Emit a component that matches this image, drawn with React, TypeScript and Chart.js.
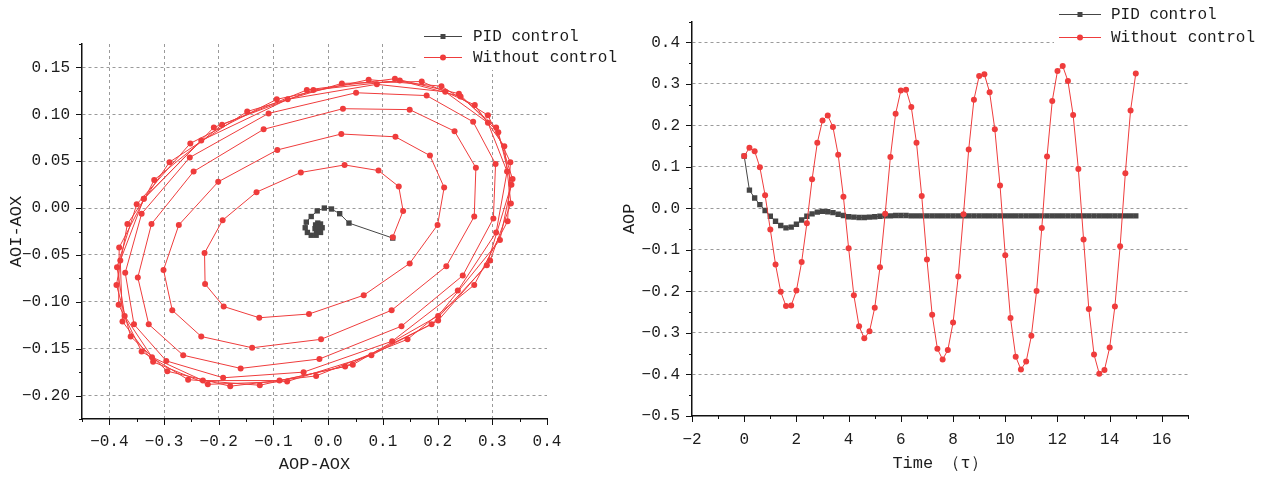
import React, { useEffect, useRef } from 'react';
import { Chart, registerables } from 'chart.js';

Chart.register(...registerables);

const FONT = "'Liberation Mono', 'DejaVu Sans Mono', monospace";
const RED = 'rgb(239,60,60)';
const GREY = '#454545';
const GRID = '#9a9a9a';
const AXIS = '#111111';
const TEXT = '#1c1c1c';

const seriesNames = ['PID control', 'Without control'];

// ---------- Left chart: phase portrait ----------
const phaseX = [
  0.118, 0.137, 0.129, 0.092, 0.030, -0.050, -0.131, -0.193, -0.226, -0.225,
  -0.191, -0.126, -0.035, 0.065, 0.149, 0.200, 0.212, 0.186, 0.123, 0.024,
  -0.093, -0.201, -0.273, -0.301, -0.285, -0.232, -0.139, -0.013, 0.116, 0.216,
  0.267, 0.270, 0.231, 0.149, 0.027, -0.118, -0.246, -0.323, -0.348, -0.328,
  -0.265, -0.160, -0.016, 0.134, 0.246, 0.302, 0.306, 0.265, 0.180, 0.051,
  -0.109, -0.253, -0.341, -0.371, -0.355, -0.296, -0.192, -0.045, 0.117, 0.237,
  0.307, 0.327, 0.292, 0.214, 0.089, -0.074, -0.232, -0.337, -0.380, -0.376,
  -0.320, -0.220, -0.075, 0.079, 0.201, 0.296, 0.334, 0.322, 0.268, 0.171,
  0.025, -0.148, -0.290, -0.367, -0.387, -0.361, -0.294, -0.179, -0.022, 0.145,
  0.267, 0.328, 0.333, 0.292, 0.207, 0.074, -0.094, -0.252, -0.350, -0.386,
  -0.372, -0.322, -0.229, -0.089, 0.031, 0.189, 0.290, 0.335, 0.311, 0.239,
  0.122, -0.039, -0.194, -0.318, -0.382, -0.383, -0.341, -0.256, -0.125, 0.045,
  0.201, 0.314, 0.337, 0.307, 0.242, 0.131, -0.027, -0.209, -0.337,
];
const phaseY = [
  -0.031, -0.003, 0.023, 0.040, 0.046, 0.038, 0.017, -0.013, -0.048, -0.081,
  -0.105, -0.117, -0.113, -0.093, -0.059, -0.018, 0.022, 0.056, 0.076, 0.079,
  0.062, 0.028, -0.018, -0.066, -0.109, -0.137, -0.149, -0.140, -0.109, -0.062,
  -0.009, 0.043, 0.082, 0.105, 0.106, 0.084, 0.039, -0.017, -0.074, -0.124,
  -0.157, -0.171, -0.161, -0.126, -0.072, -0.011, 0.047, 0.092, 0.120, 0.123,
  0.101, 0.054, -0.006, -0.069, -0.124, -0.163, -0.181, -0.175, -0.142, -0.088,
  -0.026, 0.039, 0.091, 0.124, 0.132, 0.116, 0.072, 0.010, -0.056, -0.121,
  -0.164, -0.188, -0.185, -0.157, -0.120, -0.056, 0.005, 0.066, 0.110, 0.135,
  0.133, 0.103, 0.049, -0.017, -0.082, -0.137, -0.174, -0.190, -0.179, -0.140,
  -0.082, -0.014, 0.049, 0.099, 0.130, 0.137, 0.116, 0.069, 0.004, -0.063,
  -0.115, -0.159, -0.184, -0.184, -0.169, -0.124, -0.061, 0.025, 0.081, 0.122,
  0.138, 0.126, 0.089, 0.030, -0.042, -0.103, -0.153, -0.183, -0.189, -0.167,
  -0.115, -0.034, 0.031, 0.086, 0.119, 0.136, 0.126, 0.086, 0.010,
];
const pidPhaseX = [
  0.118, 0.038, 0.021, 0.006, -0.007, -0.020, -0.031, -0.040, -0.042, -0.038,
  -0.031, -0.022, -0.014, -0.011, -0.014, -0.019, -0.023, -0.024, -0.021, -0.017,
  -0.016, -0.018, -0.020, -0.020, -0.019, -0.018, -0.018, -0.019, -0.019, -0.018,
  -0.018, -0.018, -0.019, -0.019, -0.018, -0.018,
];
const pidPhaseY = [
  -0.032, -0.016, -0.006, -0.001, 0.000, -0.003, -0.009, -0.015, -0.021, -0.026,
  -0.029, -0.029, -0.026, -0.021, -0.017, -0.016, -0.018, -0.022, -0.024, -0.023,
  -0.020, -0.019, -0.020, -0.021, -0.021, -0.020, -0.020, -0.020, -0.021, -0.020,
  -0.020, -0.020, -0.020, -0.021, -0.020, -0.020,
];

const leftXTicks = [-0.4, -0.3, -0.2, -0.1, 0.0, 0.1, 0.2, 0.3, 0.4];
const leftXLabels = ['−0.4', '−0.3', '−0.2', '−0.1', '0.0', '0.1', '0.2', '0.3', '0.4'];
const leftXMinor = [-0.45, -0.35, -0.25, -0.15, -0.05, 0.05, 0.15, 0.25, 0.35];
const leftYTicks = [-0.2, -0.15, -0.1, -0.05, 0.0, 0.05, 0.1, 0.15];
const leftYLabels = ['−0.20', '−0.15', '−0.10', '−0.05', '0.00', '0.05', '0.10', '0.15'];
const leftYMinor = [-0.225, -0.175, -0.125, -0.075, -0.025, 0.025, 0.075, 0.125, 0.175];

// ---------- Right chart: time series ----------
const timeValues = [
  0, 0.2, 0.4, 0.6, 0.8, 1.0, 1.2, 1.4, 1.6, 1.8,
  2.0, 2.2, 2.4, 2.6, 2.8, 3.0, 3.2, 3.4, 3.6, 3.8,
  4.0, 4.2, 4.4, 4.6, 4.8, 5.0, 5.2, 5.4, 5.6, 5.8,
  6.0, 6.2, 6.4, 6.6, 6.8, 7.0, 7.2, 7.4, 7.6, 7.8,
  8.0, 8.2, 8.4, 8.6, 8.8, 9.0, 9.2, 9.4, 9.6, 9.8,
  10.0, 10.2, 10.4, 10.6, 10.8, 11.0, 11.2, 11.4, 11.6, 11.8,
  12.0, 12.2, 12.4, 12.6, 12.8, 13.0, 13.2, 13.4, 13.6, 13.8,
  14.0, 14.2, 14.4, 14.6, 14.8, 15.0,
];
const aopWithout = [
  0.126, 0.146, 0.138, 0.099, 0.032, -0.051, -0.135, -0.201, -0.235, -0.234,
  -0.198, -0.129, -0.036, 0.070, 0.158, 0.212, 0.224, 0.196, 0.129, 0.028,
  -0.096, -0.209, -0.284, -0.313, -0.296, -0.239, -0.142, -0.013, 0.124, 0.228,
  0.284, 0.286, 0.244, 0.158, 0.030, -0.123, -0.256, -0.338, -0.364, -0.341,
  -0.275, -0.164, -0.014, 0.142, 0.262, 0.319, 0.323, 0.280, 0.191, 0.055,
  -0.113, -0.264, -0.357, -0.388, -0.369, -0.307, -0.199, -0.047, 0.125, 0.259,
  0.331, 0.343, 0.307, 0.225, 0.095, -0.075, -0.242, -0.352, -0.398, -0.389,
  -0.335, -0.236, -0.091, 0.085, 0.236, 0.325,
];
const aopPid = [
  0.126, 0.044, 0.025, 0.009, -0.005, -0.019, -0.031, -0.041, -0.047, -0.045,
  -0.038, -0.028, -0.019, -0.013, -0.009, -0.007, -0.008, -0.010, -0.014, -0.017,
  -0.020, -0.021, -0.022, -0.022, -0.021, -0.020, -0.019, -0.018, -0.018, -0.017,
  -0.017, -0.017, -0.018, -0.018, -0.018, -0.018, -0.018, -0.018, -0.018, -0.018,
  -0.018, -0.018, -0.018, -0.018, -0.018, -0.018, -0.018, -0.018, -0.018, -0.018,
  -0.018, -0.018, -0.018, -0.018, -0.018, -0.018, -0.018, -0.018, -0.018, -0.018,
  -0.018, -0.018, -0.018, -0.018, -0.018, -0.018, -0.018, -0.018, -0.018, -0.018,
  -0.018, -0.018, -0.018, -0.018, -0.018, -0.018,
];

const rightXTicks = [-2, 0, 2, 4, 6, 8, 10, 12, 14, 16];
const rightXLabels = ['−2', '0', '2', '4', '6', '8', '10', '12', '14', '16'];
const rightXMinor = [-1, 1, 3, 5, 7, 9, 11, 13, 15, 17];
const rightYTicks = [-0.5, -0.4, -0.3, -0.2, -0.1, 0.0, 0.1, 0.2, 0.3, 0.4];
const rightYLabels = ['−0.5', '−0.4', '−0.3', '−0.2', '−0.1', '0.0', '0.1', '0.2', '0.3', '0.4'];
const rightYMinor = [-0.45, -0.35, -0.25, -0.15, -0.05, 0.05, 0.15, 0.25, 0.35, 0.45];

// ---------- plugins ----------
const axisTicksPlugin = {
  id: 'axisTicks',
  afterDraw(chart: any, _args: any, opts: any) {
    const { ctx, chartArea: a, scales } = chart;
    const xs = scales.x;
    const ys = scales.y;
    ctx.save();
    ctx.strokeStyle = AXIS;
    ctx.lineWidth = 1;
    ctx.beginPath();
    const tx = (vals: number[], len: number) =>
      vals.forEach((v) => {
        const p = Math.round(xs.getPixelForValue(v)) + 0.5;
        ctx.moveTo(p, a.bottom);
        ctx.lineTo(p, a.bottom + len);
      });
    const ty = (vals: number[], len: number) =>
      vals.forEach((v) => {
        const p = Math.round(ys.getPixelForValue(v)) + 0.5;
        ctx.moveTo(a.left, p);
        ctx.lineTo(a.left - len, p);
      });
    tx(opts.xMajor, 6);
    tx(opts.xMinor, 3);
    ty(opts.yMajor, 6);
    ty(opts.yMinor, 3);
    ctx.stroke();
    ctx.restore();
  },
};

const boxLegendPlugin = {
  id: 'boxLegend',
  afterDraw(chart: any, _args: any, opts: any) {
    const { ctx } = chart;
    ctx.save();
    ctx.fillStyle = '#ffffff';
    ctx.fillRect(opts.box[0], opts.box[1], opts.box[2], opts.box[3]);
    const ds = chart.data.datasets;
    opts.order.forEach((label: string, i: number) => {
      const d = ds.find((q: any) => q.label === label);
      const yy = opts.y0 + i * opts.dy;
      ctx.strokeStyle = d.borderColor;
      ctx.lineWidth = 1;
      ctx.beginPath();
      ctx.moveTo(opts.x0, Math.round(yy) + 0.5);
      ctx.lineTo(opts.x1, Math.round(yy) + 0.5);
      ctx.stroke();
      ctx.fillStyle = d.backgroundColor;
      const cx = (opts.x0 + opts.x1) / 2;
      if (d.pointStyle === 'rect') {
        ctx.fillRect(cx - 2.5, Math.round(yy) - 2, 5, 5);
      } else {
        ctx.beginPath();
        ctx.arc(cx, Math.round(yy) + 0.5, 3, 0, Math.PI * 2);
        ctx.fill();
      }
      ctx.fillStyle = TEXT;
      ctx.font = `16px ${FONT}`;
      ctx.textBaseline = 'middle';
      ctx.textAlign = 'left';
      ctx.fillText(label, opts.tx, yy + 1);
    });
    ctx.restore();
  },
};

const tickFont = { family: FONT, size: 16 };
const titleFont = { family: FONT, size: 17 };

function pickLabel(ticks: number[], labels: string[]) {
  return (v: any) => {
    const i = ticks.findIndex((t) => Math.abs(t - Number(v)) < 1e-9);
    return i >= 0 ? labels[i] : '';
  };
}

function setTicks(vals: number[]) {
  return (s: any) => {
    s.ticks = vals.map((v) => ({ value: v }));
  };
}

function leftConfig(): any {
  return {
    type: 'scatter',
    data: {
      datasets: [
        {
          label: seriesNames[1],
          data: phaseX.map((v, i) => ({ x: v, y: phaseY[i] })),
          showLine: true,
          borderColor: RED,
          backgroundColor: RED,
          borderWidth: 1,
          pointRadius: 3,
          pointBorderWidth: 0,
          pointStyle: 'circle',
          tension: 0,
        },
        {
          label: seriesNames[0],
          data: pidPhaseX.map((v, i) => ({ x: v, y: pidPhaseY[i] })),
          showLine: true,
          borderColor: GREY,
          backgroundColor: GREY,
          borderWidth: 1,
          pointRadius: 3.8,
          pointBorderWidth: 0,
          pointStyle: 'rect',
          tension: 0,
        },
      ],
    },
    options: {
      responsive: false,
      animation: false,
      devicePixelRatio: 1,
      events: [],
      layout: { padding: { left: 0, top: 44, right: 90, bottom: 0 } },
      plugins: {
        legend: { display: false },
        tooltip: { enabled: false },
        axisTicks: { xMajor: leftXTicks, xMinor: leftXMinor, yMajor: leftYTicks, yMinor: leftYMinor },
        boxLegend: { box: [418, 22, 219, 48], order: seriesNames, x0: 424, x1: 462, y0: 36, dy: 21, tx: 473 },
      },
      scales: {
        x: {
          type: 'linear',
          min: -0.45,
          max: 0.4,
          afterBuildTicks: setTicks(leftXTicks),
          afterFit: (s: any) => {
            s.height = 60;
          },
          ticks: { autoSkip: false, maxRotation: 0, padding: 13, font: tickFont, color: TEXT, callback: pickLabel(leftXTicks, leftXLabels) },
          grid: {
            drawTicks: false,
            lineWidth: 1,
            color: (c: any) => (c.tick && Math.abs(c.tick.value - 0.4) < 1e-9 ? 'rgba(0,0,0,0)' : GRID),
          },
          border: { display: true, color: AXIS, width: 1.5, dash: [3, 3] },
          title: { display: true, text: 'AOP-AOX', font: titleFont, color: TEXT, padding: { top: 0, bottom: 4 } },
        },
        y: {
          type: 'linear',
          min: -0.225,
          max: 0.175,
          afterBuildTicks: setTicks(leftYTicks),
          afterFit: (s: any) => {
            s.width = 82;
          },
          ticks: { autoSkip: false, padding: 12, font: tickFont, color: TEXT, callback: pickLabel(leftYTicks, leftYLabels) },
          grid: { drawTicks: false, lineWidth: 1, color: GRID },
          border: { display: true, color: AXIS, width: 1.5, dash: [3, 3] },
          title: { display: true, text: 'AOI-AOX', font: titleFont, color: TEXT, padding: { top: 6, bottom: 0 } },
        },
      },
    },
    plugins: [axisTicksPlugin, boxLegendPlugin],
  };
}

function rightConfig(): any {
  return {
    type: 'scatter',
    data: {
      datasets: [
        {
          label: seriesNames[1],
          data: timeValues.map((t, i) => ({ x: t, y: aopWithout[i] })),
          showLine: true,
          borderColor: RED,
          backgroundColor: RED,
          borderWidth: 1,
          pointRadius: 3,
          pointBorderWidth: 0,
          pointStyle: 'circle',
          tension: 0,
        },
        {
          label: seriesNames[0],
          data: timeValues.map((t, i) => ({ x: t, y: aopPid[i] })),
          showLine: true,
          borderColor: GREY,
          backgroundColor: GREY,
          borderWidth: 1,
          pointRadius: 3.8,
          pointBorderWidth: 0,
          pointStyle: 'rect',
          tension: 0,
        },
      ],
    },
    options: {
      responsive: false,
      animation: false,
      devicePixelRatio: 1,
      events: [],
      layout: { padding: { left: 0, top: 15, right: 86, bottom: 0 } },
      plugins: {
        legend: { display: false },
        tooltip: { enabled: false },
        axisTicks: { xMajor: rightXTicks, xMinor: rightXMinor, yMajor: rightYTicks, yMinor: rightYMinor },
        boxLegend: { box: [442, 0, 220, 48], order: seriesNames, x0: 447, x1: 489, y0: 13.5, dy: 23.3, tx: 499 },
      },
      scales: {
        x: {
          type: 'linear',
          min: -2,
          max: 17,
          afterBuildTicks: setTicks(rightXTicks),
          afterFit: (s: any) => {
            s.height = 63;
          },
          ticks: { autoSkip: false, maxRotation: 0, padding: 14, font: tickFont, color: TEXT, callback: pickLabel(rightXTicks, rightXLabels) },
          grid: { drawTicks: false, lineWidth: 1, color: 'rgba(0,0,0,0)' },
          border: { display: true, color: AXIS, width: 1.5, dash: [3, 3] },
          title: { display: true, text: 'Time （τ）', font: titleFont, color: TEXT, padding: { top: 0, bottom: 5 } },
        },
        y: {
          type: 'linear',
          min: -0.5,
          max: 0.45,
          afterBuildTicks: setTicks(rightYTicks),
          afterFit: (s: any) => {
            s.width = 80;
          },
          ticks: { autoSkip: false, padding: 12, font: tickFont, color: TEXT, callback: pickLabel(rightYTicks, rightYLabels) },
          grid: {
            drawTicks: false,
            lineWidth: 1,
            color: (c: any) => (c.tick && Math.abs(c.tick.value + 0.5) < 1e-9 ? 'rgba(0,0,0,0)' : GRID),
          },
          border: { display: true, color: AXIS, width: 1.5, dash: [3, 3] },
          title: { display: true, text: 'AOP', font: titleFont, color: TEXT, padding: { top: 7, bottom: 0 } },
        },
      },
    },
    plugins: [axisTicksPlugin, boxLegendPlugin],
  };
}

export default function App() {
  const leftRef = useRef<HTMLCanvasElement | null>(null);
  const rightRef = useRef<HTMLCanvasElement | null>(null);

  useEffect(() => {
    const c1 = new Chart(leftRef.current as HTMLCanvasElement, leftConfig());
    const c2 = new Chart(rightRef.current as HTMLCanvasElement, rightConfig());
    return () => {
      c1.destroy();
      c2.destroy();
    };
  }, []);

  return (
    <div style={{ position: 'absolute', left: 0, top: 0, width: 1274, height: 479, background: '#fff' }}>
      <canvas ref={leftRef} width={637} height={479} style={{ position: 'absolute', left: 0, top: 0, width: 637, height: 479 }} />
      <canvas ref={rightRef} width={662} height={479} style={{ position: 'absolute', left: 612, top: 0, width: 662, height: 479 }} />
    </div>
  );
}
